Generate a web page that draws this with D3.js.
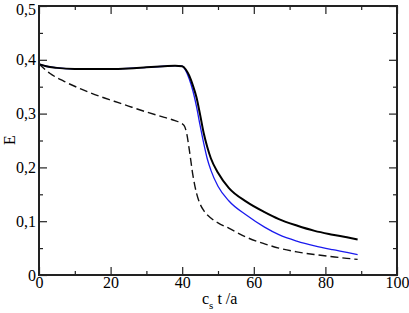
<!DOCTYPE html>
<html>
<head>
<meta charset="utf-8">
<script src="https://cdn.jsdelivr.net/npm/d3@7"></script>
<style>
  body { margin: 0; background: #fff; }
  svg { display: block; }
  svg text { font-family: "Liberation Serif", "Times New Roman", "DejaVu Serif", serif; }
</style>
</head>
<body>
<svg id="chart" width="409" height="313"></svg>
<script>
// time axis c_s t / a
const blackT = [0, 2, 5, 10, 15, 20, 25, 30, 35, 38, 40, 41, 42, 43, 44, 45, 46, 47, 48, 50, 53, 58, 63, 67, 72, 77, 82, 86, 89];
const blackE = [0.392, 0.388, 0.385, 0.383, 0.383, 0.383, 0.384, 0.386, 0.388, 0.389, 0.388, 0.382, 0.37, 0.352, 0.33, 0.298, 0.264, 0.238, 0.217, 0.19, 0.162, 0.136, 0.117, 0.104, 0.092, 0.082, 0.075, 0.07, 0.066];

const blueT = [0, 2, 5, 10, 15, 20, 25, 30, 35, 38, 40, 41, 42, 43, 44, 45, 46, 47, 48, 50, 53, 58, 63, 67, 72, 77, 82, 86, 89];
const blueE = [0.392, 0.388, 0.385, 0.383, 0.383, 0.383, 0.384, 0.386, 0.388, 0.389, 0.388, 0.38, 0.364, 0.342, 0.313, 0.278, 0.245, 0.216, 0.195, 0.165, 0.138, 0.111, 0.089, 0.075, 0.063, 0.054, 0.047, 0.042, 0.038];

const dashT = [0, 3, 7, 12, 17, 21, 25, 30, 35, 38, 39.5, 40.5, 41.2, 42, 43, 44, 45, 46, 48, 50, 53, 58, 63, 67, 72, 77, 82, 86, 89];
const dashE = [0.392, 0.375, 0.36, 0.345, 0.332, 0.323, 0.314, 0.303, 0.293, 0.287, 0.283, 0.278, 0.265, 0.232, 0.185, 0.152, 0.132, 0.12, 0.106, 0.097, 0.087, 0.07, 0.058, 0.05, 0.043, 0.038, 0.034, 0.031, 0.029];

const xMajor = [0, 20, 40, 60, 80, 100];
const xMinor = [10, 30, 50, 70, 90];
const yMajor = [0, 0.1, 0.2, 0.3, 0.4, 0.5];
const yMinor = [0.05, 0.15, 0.25, 0.35, 0.45];
const yLabels = ["0", "0,1", "0,2", "0,3", "0,4", "0,5"];

const svg = d3.select("#chart");
const plotL = 39, plotR = 397, plotT = 6, plotB = 275;
const serif = "'Liberation Serif', 'Times New Roman', 'DejaVu Serif', serif";

const x = d3.scaleLinear().domain([0, 100]).range([plotL, plotR]);
const y = d3.scaleLinear().domain([0, 0.5]).range([plotB, plotT]);

const line = d3.line()
    .x(d => x(d[0]))
    .y(d => y(d[1]))
    .curve(d3.curveMonotoneX);

// curves
svg.append("path")
    .datum(d3.zip(dashT, dashE))
    .attr("d", line)
    .attr("fill", "none")
    .attr("stroke", "#111")
    .attr("stroke-width", 1.4)
    .attr("stroke-dasharray", "8,4");

svg.append("path")
    .datum(d3.zip(blueT, blueE))
    .attr("d", line)
    .attr("fill", "none")
    .attr("stroke", "#1a1aee")
    .attr("stroke-width", 1.3);

svg.append("path")
    .datum(d3.zip(blackT, blackE))
    .attr("d", line)
    .attr("fill", "none")
    .attr("stroke", "#000")
    .attr("stroke-width", 2);

// axes, ticks pointing inwards on all four sides
function tickAxis(axis, pos, values, size, labels) {
    const g = svg.append("g")
        .attr("transform", pos)
        .call(axis.tickValues(values).tickSizeInner(size).tickSizeOuter(0)
            .tickFormat(labels ? (d, i) => labels[i] : () => ""));
    g.attr("font-family", serif).attr("font-size", 16);
    g.select(".domain").remove();
    g.selectAll(".tick line").attr("stroke", "#222").attr("stroke-width", 1.2);
    g.selectAll(".tick text").attr("fill", "#000");
    return g;
}

const xb = tickAxis(d3.axisBottom(x), `translate(0,${plotB})`, xMajor, -8, xMajor.map(String));
xb.selectAll(".tick text").attr("y", 2).attr("dy", "0.71em");
tickAxis(d3.axisBottom(x), `translate(0,${plotB})`, xMinor, -4, null);
tickAxis(d3.axisTop(x), `translate(0,${plotT})`, xMajor, -8, null);
tickAxis(d3.axisTop(x), `translate(0,${plotT})`, xMinor, -4, null);

const yl = tickAxis(d3.axisLeft(y), `translate(${plotL},0)`, yMajor, -8, yLabels);
yl.selectAll(".tick text").attr("x", -3);
// top label sits against the upper edge
yl.selectAll(".tick text").filter(d => d === 0.5).attr("dy", "0.5em");
tickAxis(d3.axisLeft(y), `translate(${plotL},0)`, yMinor, -4, null);
tickAxis(d3.axisRight(y), `translate(${plotR},0)`, yMajor, -8, null);
tickAxis(d3.axisRight(y), `translate(${plotR},0)`, yMinor, -4, null);

// frame
svg.append("rect")
    .attr("x", plotL)
    .attr("y", plotT)
    .attr("width", plotR - plotL)
    .attr("height", plotB - plotT)
    .attr("fill", "none")
    .attr("stroke", "#222")
    .attr("stroke-width", 2);

// axis titles
const xt = svg.append("text")
    .attr("x", 202)
    .attr("y", 304)
    .attr("font-family", serif)
    .attr("font-size", 16);
xt.append("tspan").text("c");
xt.append("tspan").attr("dy", 5).attr("font-size", 11).text("s");
xt.append("tspan").attr("dy", -5).text(" t /a");

svg.append("text")
    .attr("transform", "translate(15,140) rotate(-90)")
    .attr("text-anchor", "middle")
    .attr("font-family", serif)
    .attr("font-size", 16)
    .text("E");
</script>
</body>
</html>
